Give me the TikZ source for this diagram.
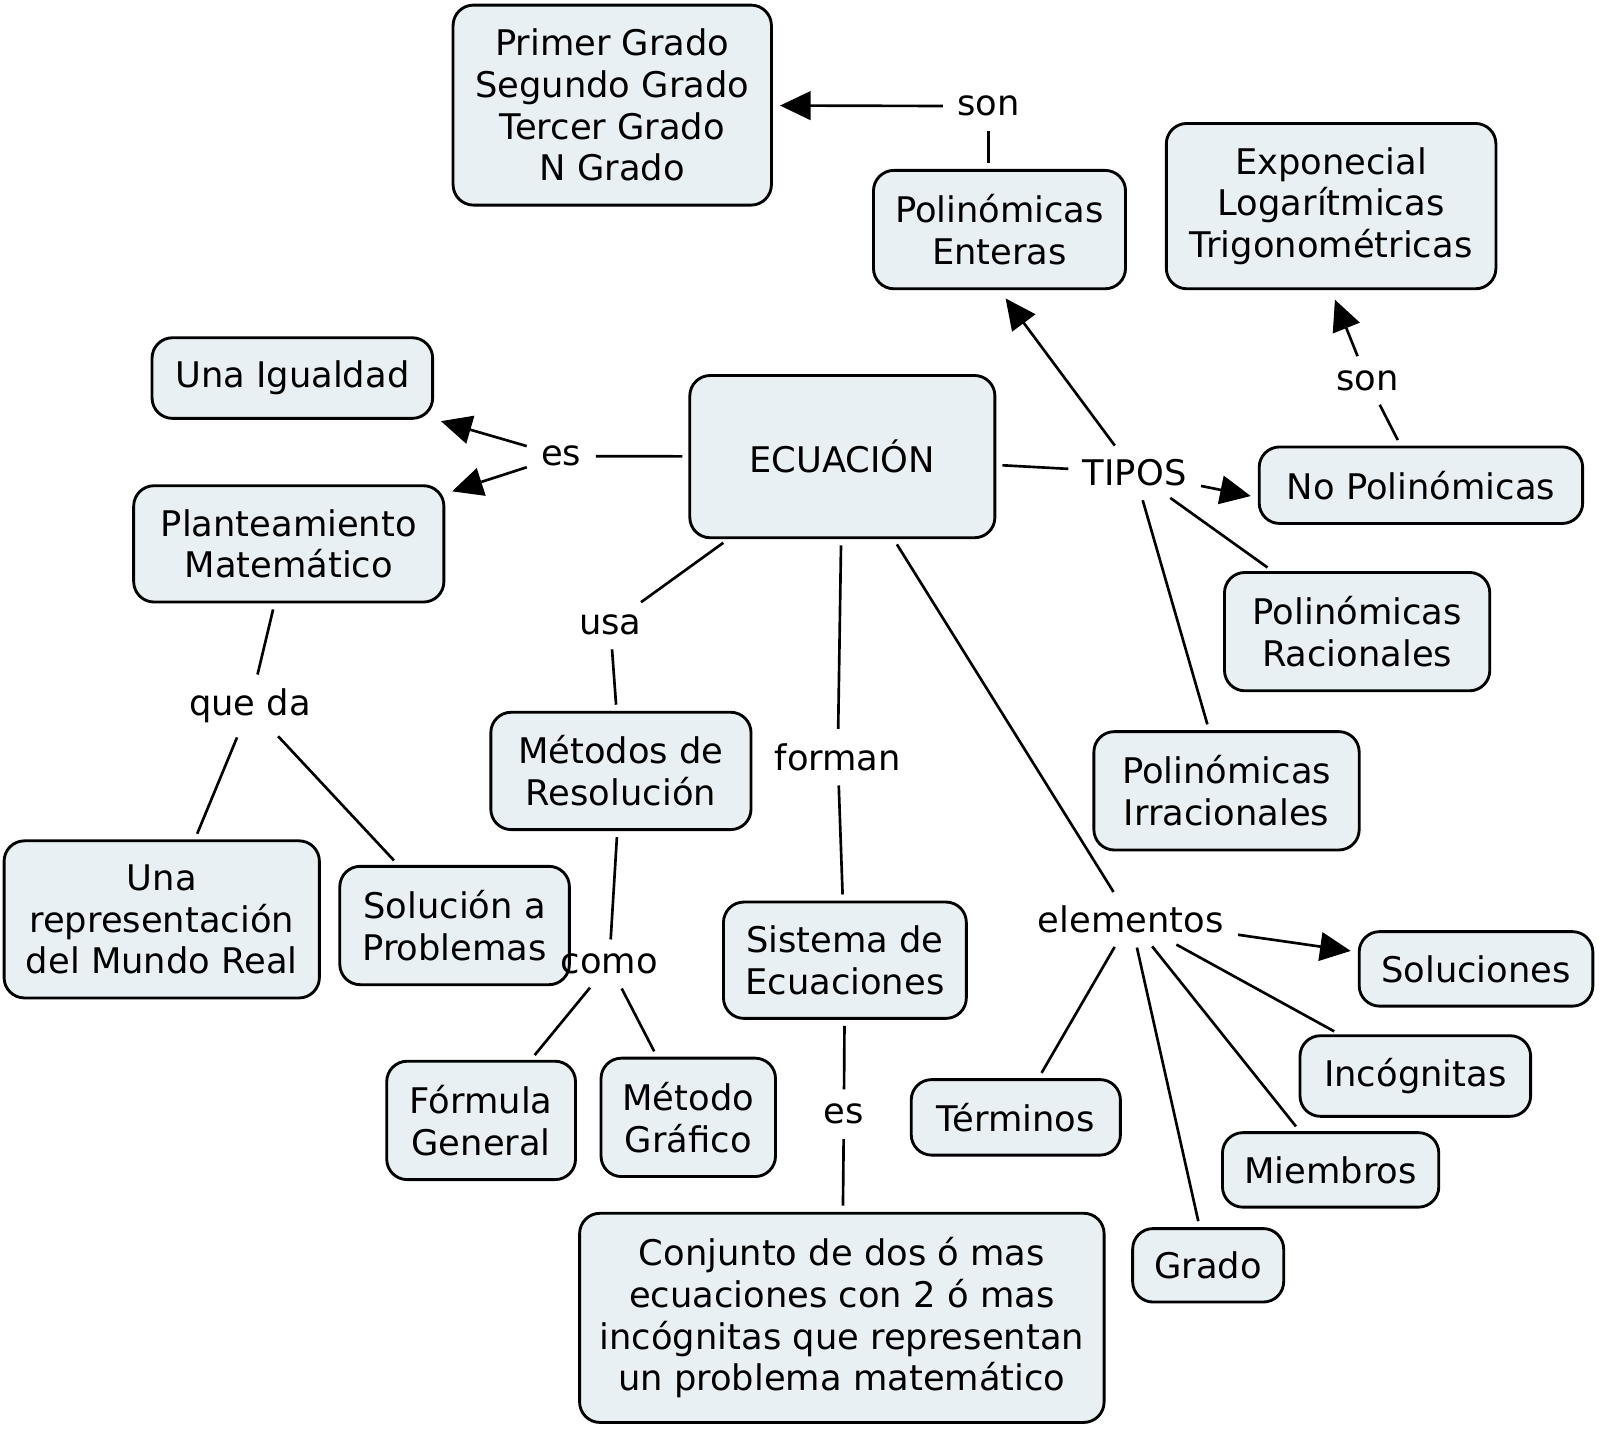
\documentclass[tikz,border=0pt]{standalone}
\usepackage{fontspec}
\setmainfont{DejaVu Sans}
\usetikzlibrary{arrows.meta}
\definecolor{cfill}{HTML}{E8F0F3}
\tikzset{
  concept/.style={draw=black, line width=1.4pt, rounded corners=10pt, fill=cfill,
    align=center, inner sep=0pt, font=\fontsize{17.3}{20.4}\selectfont},
  lbl/.style={align=center, inner sep=4pt, font=\fontsize{17.3}{20.4}\selectfont},
  link/.style={line width=1.3pt, shorten <=3pt, shorten >=3pt},
  arr/.style={line width=1.3pt, shorten <=3pt, shorten >=3.5pt, -{Triangle[length=15pt,width=14pt]}}
}
\begin{document}
\begin{tikzpicture}[x=0.5pt,y=-0.5pt]
\useasboundingbox (0,0) rectangle (1568,1400.4);
% concepts
\node[concept, minimum width=156pt, minimum height=98pt] (PG) at (600,103) {Primer Grado\\Segundo Grado\\Tercer Grado\\N Grado};
\node[concept, minimum width=123.5pt, minimum height=58pt] (PE) at (979.5,225) {Polinómicas\\Enteras};
\node[concept, minimum width=161.5pt, minimum height=81pt] (EXP) at (1304.5,202) {Exponecial\\Logarítmicas\\Trigonométricas};
\node[concept, minimum width=137.5pt, minimum height=39.5pt] (UI) at (286.5,370.5) {Una Igualdad};
\node[concept, minimum width=149.5pt, minimum height=79.5pt] (ECU) at (825.5,447.5) {ECUACIÓN};
\node[concept, minimum width=158.5pt, minimum height=37.5pt] (NP) at (1392.5,475.5) {No Polinómicas};
\node[concept, minimum width=152pt, minimum height=57pt] (PM) at (283,533) {Planteamiento\\Matemático};
\node[concept, minimum width=130pt, minimum height=58pt] (PR) at (1330,619) {Polinómicas\\Racionales};
\node[concept, minimum width=127.5pt, minimum height=57.5pt] (MR) at (608.5,755.5) {Métodos de\\Resolución};
\node[concept, minimum width=130pt, minimum height=58pt] (PI) at (1202,775) {Polinómicas\\Irracionales};
\node[concept, minimum width=154.5pt, minimum height=77pt] (UR) at (158.5,901) {Una\\representación\\del Mundo Real};
\node[concept, minimum width=112.5pt, minimum height=58pt] (SP) at (445.5,907) {Solución a\\Problemas};
\node[concept, minimum width=119pt, minimum height=57pt] (SE) at (828,941) {Sistema de\\Ecuaciones};
\node[concept, minimum width=114.5pt, minimum height=36.5pt] (SOL) at (1446.5,949.5) {Soluciones};
\node[concept, minimum width=92.5pt, minimum height=58pt] (FG) at (471.5,1098) {Fórmula\\General};
\node[concept, minimum width=85.5pt, minimum height=58pt] (MG) at (674.5,1095) {Método\\Gráfico};
\node[concept, minimum width=102.5pt, minimum height=37pt] (TER) at (995.5,1095) {Términos};
\node[concept, minimum width=113pt, minimum height=39.5pt] (INC) at (1387,1054.5) {Incógnitas};
\node[concept, minimum width=106pt, minimum height=36.5pt] (MIE) at (1304,1146.5) {Miembros};
\node[concept, minimum width=74pt, minimum height=36pt] (GR) at (1184,1240) {Grado};
\node[concept, minimum width=257pt, minimum height=102.5pt] (CJ) at (825,1291.5) {Conjunto de dos ó mas\\ecuaciones con 2 ó mas\\incógnitas que representan\\un problema matemático};
% link labels
\node[lbl] (son1) at (969,104) {son};
\node[lbl] (son2) at (1340,373) {son};
\node[lbl] (es1) at (550,447) {es};
\node[lbl] (tipos) at (1112,463) {TIPOS};
\node[lbl] (usa) at (598,612) {usa};
\node[lbl] (queda) at (245,692) {que da};
\node[lbl] (forman) at (821,742) {forman};
\node[lbl] (como) at (597,945) {como};
\node[lbl] (elem) at (1108,901) {elementos};
\node[lbl] (es2) at (827,1092) {es};
% connectors
\draw[link] (PE.north -| son1) -- (son1);
\draw[arr] (son1) -- (PG);
\draw[link] (ECU) -- (tipos);
\draw[arr, shorten >=5pt] (tipos) -- (PE.south);
\draw[arr] (tipos) -- ([yshift=-6pt]NP.west);
\draw[link] (tipos) -- (PR);
\draw[link] (tipos) -- (PI);
\draw[link] (NP) -- (son2);
\draw[arr, shorten >=5pt] (son2) -- (EXP.south);
\draw[link] (ECU) -- (es1);
\draw[arr] (es1) -- (UI);
\draw[arr] (es1) -- (PM);
\draw[link] (PM) -- (queda);
\draw[link] (queda) -- (UR);
\draw[link] (queda) -- (SP);
\draw[link] (ECU) -- (usa);
\draw[link] (usa) -- (MR);
\draw[link] (MR) -- (como);
\draw[link] (como) -- (FG);
\draw[link] (como) -- (MG);
\draw[link] (ECU) -- (forman);
\draw[link] (forman) -- (SE);
\draw[link] (SE) -- (es2);
\draw[link] (es2) -- (CJ);
\draw[link] (ECU) -- (elem);
\draw[arr] (elem) -- (SOL);
\draw[link] (elem) -- (INC);
\draw[link] (elem) -- (MIE);
\draw[link] (elem) -- (GR);
\draw[link] (elem) -- (TER);
\end{tikzpicture}
\end{document}
